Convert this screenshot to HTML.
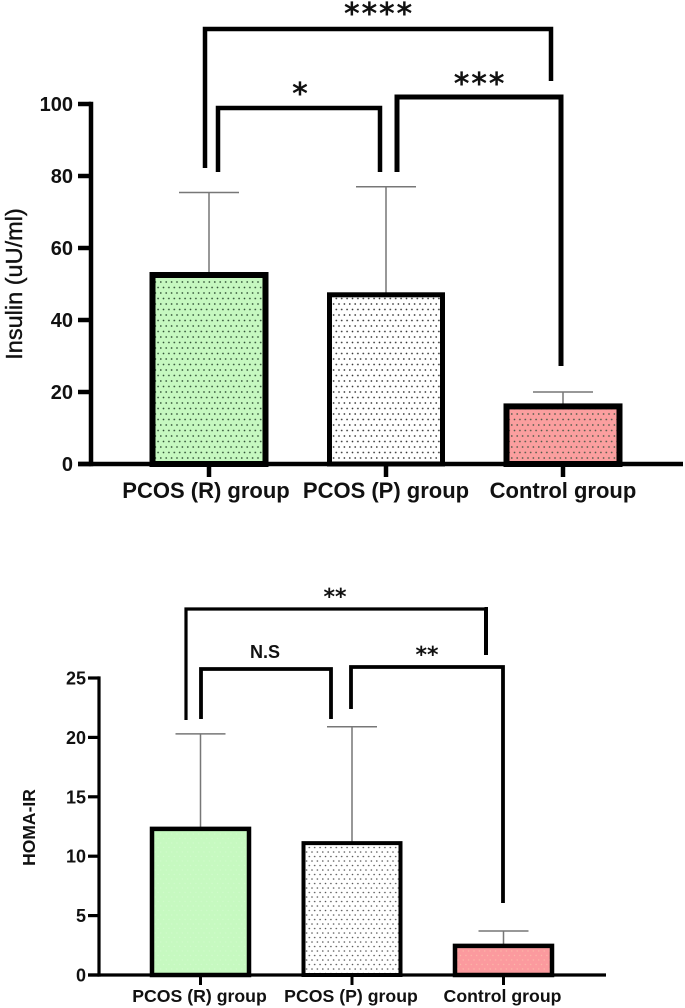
<!DOCTYPE html>
<html>
<head>
<meta charset="utf-8">
<title>Insulin and HOMA-IR bar charts</title>
<style>
html,body{margin:0;padding:0;background:#fff;width:685px;height:1008px;overflow:hidden}
svg{display:block;filter:blur(0.35px)}
text{font-family:"Liberation Sans",sans-serif;fill:#111}
.star{font-family:"DejaVu Sans",sans-serif;font-weight:bold;text-anchor:middle}
</style>
</head>
<body>
<svg id="figure" width="685" height="1008" viewBox="0 0 685 1008" xmlns="http://www.w3.org/2000/svg">
  <defs>
    <pattern id="dots-green" width="5.4" height="11" patternUnits="userSpaceOnUse">
      <rect width="5.4" height="11" fill="#c6f8c0"/>
      <circle cx="1.5" cy="1.5" r="0.85" fill="#2f4f34"/>
      <circle cx="4.2" cy="7" r="0.85" fill="#2f4f34"/>
    </pattern>
    <pattern id="dots-white" width="5.4" height="11" patternUnits="userSpaceOnUse">
      <rect width="5.4" height="11" fill="#fff"/>
      <circle cx="1.5" cy="1.5" r="0.85" fill="#333"/>
      <circle cx="4.2" cy="7" r="0.85" fill="#333"/>
    </pattern>
    <pattern id="dots-red" width="5.4" height="11" patternUnits="userSpaceOnUse">
      <rect width="5.4" height="11" fill="#fb9f9f"/>
      <circle cx="1.5" cy="1.5" r="0.85" fill="#4f5a4a"/>
      <circle cx="4.2" cy="7" r="0.85" fill="#4f5a4a"/>
    </pattern>
    <pattern id="soft-green" width="5.4" height="9" patternUnits="userSpaceOnUse">
      <rect width="5.4" height="9" fill="#c6f9c0"/>
      <circle cx="1.5" cy="1.5" r="0.7" fill="#d0fbcb"/>
      <circle cx="4.2" cy="6" r="0.7" fill="#d0fbcb"/>
    </pattern>
    <pattern id="soft-white" width="5.4" height="9" patternUnits="userSpaceOnUse">
      <rect width="5.4" height="9" fill="#fff"/>
      <circle cx="1.5" cy="1.5" r="0.8" fill="#555"/>
      <circle cx="4.2" cy="6" r="0.8" fill="#555"/>
    </pattern>
    <pattern id="soft-red" width="5.4" height="9" patternUnits="userSpaceOnUse">
      <rect width="5.4" height="9" fill="#fb9a9e"/>
      <circle cx="1.5" cy="1.5" r="0.7" fill="#fbb7a8"/>
      <circle cx="4.2" cy="6" r="0.7" fill="#fbb7a8"/>
    </pattern>
  </defs>

  <g id="insulin-chart"></g>
  <g id="homa-chart"></g>

  <g fill="none" stroke="#000" stroke-width="4.5" stroke-linejoin="miter">
    <path d="M205 168V29H551V81"/>
    <path d="M218 172V108H380V172"/>
    <path d="M397 172V97H561V366" stroke-width="5"/>
  </g>
  <text class="star" x="379" y="24" font-size="30" letter-spacing="1.8">****</text>
  <text class="star" x="300" y="104" font-size="30">*</text>
  <text class="star" x="480" y="94" font-size="30" letter-spacing="1.8">***</text>

  <g fill="none" stroke="#000" stroke-width="3">
    <path d="M186 720V609H486" stroke-width="3.2"/>
    <path d="M484.5 609H486V655" stroke-width="4"/>
    <path d="M201 719V669H331V719" stroke-width="3.8"/>
    <path d="M351 709V667H503V903" stroke-width="3.8"/>
  </g>
  <text class="star" x="335" y="604" font-size="22">**</text>
  <text x="265" y="658" font-size="18" font-weight="bold" text-anchor="middle">N.S</text>
  <text class="star" x="427" y="662" font-size="22">**</text>
</svg>
<script>
var categories = ['PCOS (R) group', 'PCOS (P) group', 'Control group'];
var insulinMeans = [52.5, 47, 16];
var insulinErrorTops = [75.4, 77, 20];
var insulinTicks = [0, 20, 40, 60, 80, 100];
var homaMeans = [12.3, 11.1, 2.45];
var homaErrorTops = [20.3, 20.9, 3.7];
var homaTicks = [0, 5, 10, 15, 20, 25];

var NS = 'http://www.w3.org/2000/svg';
function make(parent, tag, attrs, text) {
  var el = document.createElementNS(NS, tag);
  for (var k in attrs) { el.setAttribute(k, attrs[k]); }
  if (text !== undefined) { el.textContent = text; }
  parent.appendChild(el);
  return el;
}

function drawChart(root, means, tops, ticks, cfg) {
  function y(v) { return cfg.y0 - (v - ticks[0]) / (ticks[ticks.length - 1] - ticks[0]) * (cfg.y0 - cfg.y1); }
  function x(i) { return cfg.x0 + i * cfg.step; }

  means.forEach(function (m, i) {
    var err = make(root, 'path', {
      d: 'M' + x(i) + ' ' + y(m) + 'V' + y(tops[i]) + 'M' + (x(i) - cfg.cap) + ' ' + y(tops[i]) + 'H' + (x(i) + cfg.cap),
      fill: 'none', stroke: '#777', 'stroke-width': 1.5
    });
    
    
    var bar = make(root, 'rect', {
      x: x(i) - cfg.barW / 2, y: y(m), width: cfg.barW, height: y(0) - y(m),
      fill: 'url(#' + cfg.fills[i] + ')', stroke: '#000', 'stroke-width': cfg.barStroke[i]
    });
    
    
    var tick = make(root, 'line', {
      x1: x(i), x2: x(i), y1: y(0), y2: y(0) + cfg.xTickLen, stroke: '#000', 'stroke-width': cfg.xTickW
    });
    
    
    var label = make(root, 'text', {
      x: x(i) + cfg.labelNudge[i], y: cfg.xLabelY, 'font-size': cfg.xFont, 'font-weight': 'bold', 'text-anchor': 'middle'
    }, categories[i]);
    
    
  });

  ticks.forEach(function (t) {
    var tick = make(root, 'line', {
      x1: cfg.tickLeft, x2: cfg.axisX, y1: y(t), y2: y(t), stroke: '#000', 'stroke-width': cfg.axisW
    });
    
    
    var label = make(root, 'text', {
      x: cfg.labelRight, y: y(t) + cfg.yFont * 0.36, 'font-size': cfg.yFont, 'font-weight': 'bold', 'text-anchor': 'end'
    }, String(t));
    
    
  });

  var yAxis = make(root, 'line', {
    x1: cfg.axisX, x2: cfg.axisX, y1: y(ticks[ticks.length - 1]) - cfg.axisW / 2, y2: y(0) + cfg.axisW / 2,
    stroke: '#000', 'stroke-width': cfg.axisW
  });
  
  
  var xAxis = make(root, 'line', {
    x1: cfg.tickLeft, x2: cfg.axisEnd, y1: y(0), y2: y(0), stroke: '#000', 'stroke-width': cfg.axisW
  });
  
  

  var title = make(root, 'text', {
    x: cfg.titleX, y: cfg.titleY, 'font-size': cfg.titleFont, 'font-weight': cfg.titleWeight,
    'text-anchor': 'middle', stroke: '#111', 'stroke-width': cfg.titleStroke,
    transform: 'rotate(-90 ' + cfg.titleX + ' ' + cfg.titleY + ')'
  }, cfg.title);
  
  
}

drawChart(document.getElementById('insulin-chart'), insulinMeans, insulinErrorTops, insulinTicks, {
  y0: 464, y1: 104, x0: 209, step: 177, barW: 113, cap: 30,
  barStroke: [6, 5, 6], fills: ['dots-green', 'dots-white', 'dots-red'],
  xTickLen: 13, xTickW: 4.5, xLabelY: 498, xFont: 22, labelNudge: [-3, 0, 0],
  tickLeft: 78, axisX: 91, axisW: 4.5, axisEnd: 683, labelRight: 73, yFont: 20,
  title: 'Insulin (uU/ml)', titleX: 22, titleY: 284, titleFont: 23.5, titleWeight: 'normal', titleStroke: 0.4
});

drawChart(document.getElementById('homa-chart'), homaMeans, homaErrorTops, homaTicks, {
  y0: 975, y1: 678, x0: 200.5, step: 151.5, barW: 97, cap: 25,
  barStroke: [4.5, 4, 4.5], fills: ['soft-green', 'soft-white', 'soft-red'],
  xTickLen: 10, xTickW: 3, xLabelY: 1002, xFont: 17.7, labelNudge: [-1, -1, -1],
  tickLeft: 88, axisX: 99, axisW: 3.2, axisEnd: 606, labelRight: 86, yFont: 18,
  title: 'HOMA-IR', titleX: 35, titleY: 827.5, titleFont: 17.5, titleWeight: 'bold', titleStroke: 0
});
</script>
</body>
</html>
